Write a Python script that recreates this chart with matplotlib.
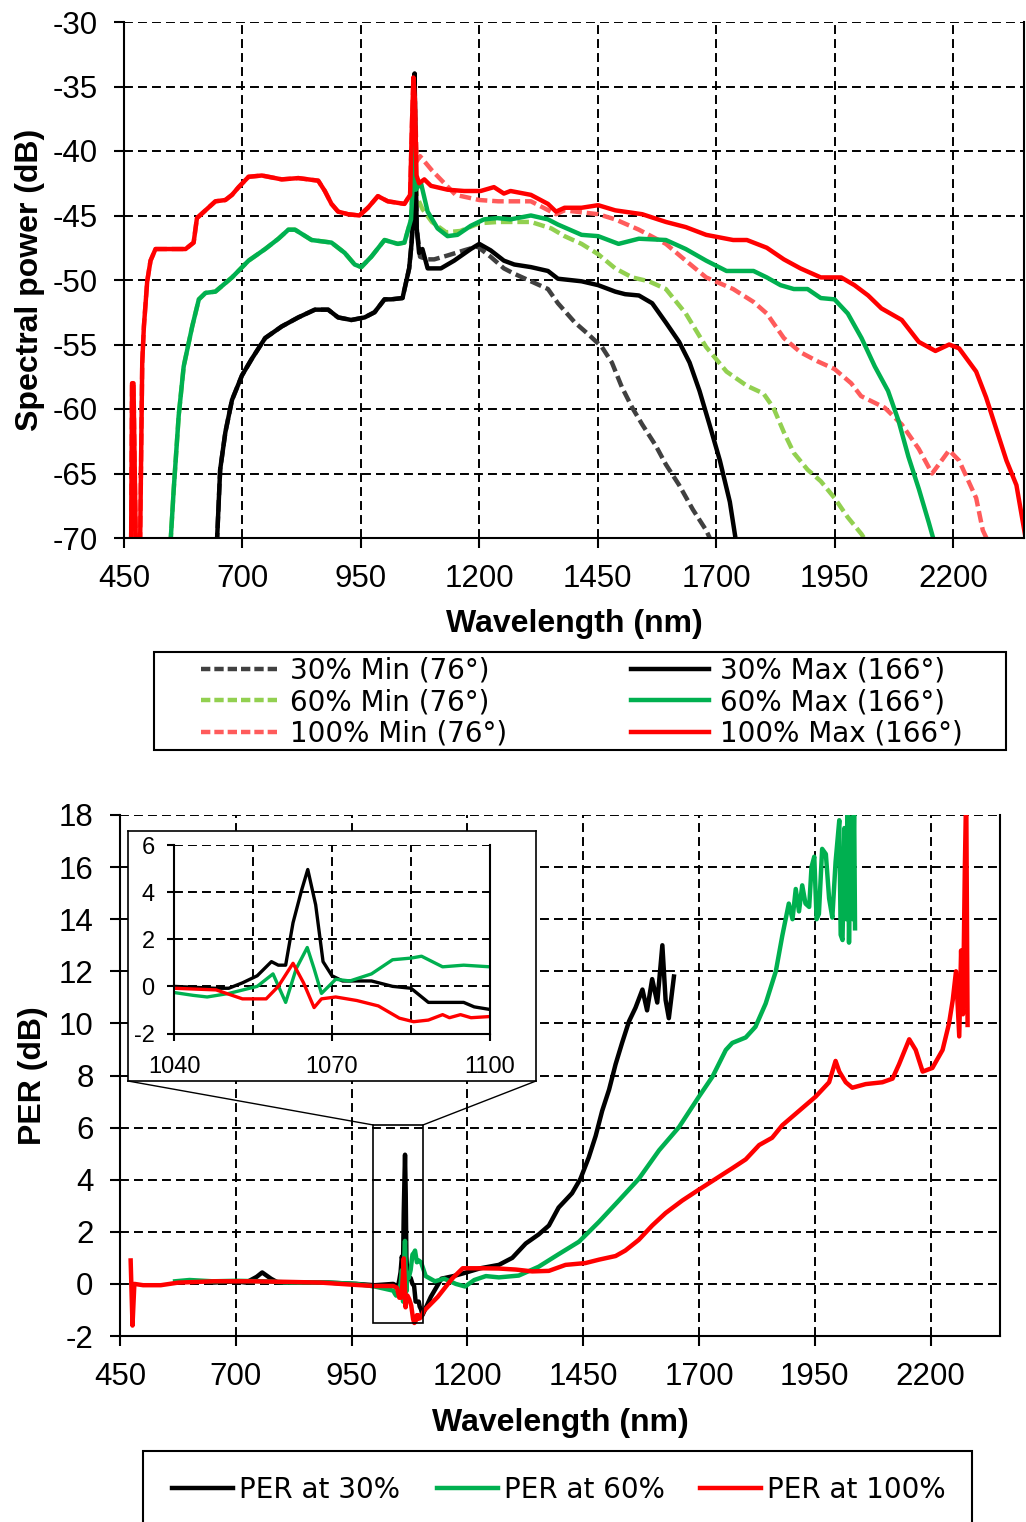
import matplotlib
matplotlib.use('Agg')
import matplotlib.pyplot as plt
from matplotlib.patches import Rectangle, ConnectionPatch
from matplotlib.lines import Line2D

plt.rcParams['font.family'] = ['Liberation Sans', 'DejaVu Sans']
plt.rcParams['axes.unicode_minus'] = False

# ---- spectra (top panel) ----
# 30 % power: shared part (Min and Max overlap below the pump line)
wl_30_common = [646, 653, 664, 678, 699, 720, 748, 783, 818, 853, 881, 902, 930, 958, 979, 1000,
                1014, 1038, 1052, 1057, 1059, 1061, 1063.5]
db_30_common = [-70.5, -64.7, -61.8, -59.3, -57.4, -56.1, -54.5, -53.6, -52.9, -52.3, -52.3, -52.9,
                -53.1, -52.9, -52.5, -51.5, -51.5, -51.4, -49.1, -47.2, -46, -37.8, -34]
wl_30max_tail = [1065.5, 1068, 1073, 1080, 1091, 1119, 1147, 1182, 1200, 1224, 1252, 1274, 1309, 1345,
                 1366, 1416, 1451, 1487, 1508, 1537, 1565, 1594, 1622, 1644, 1665, 1686, 1708, 1729, 1743]
db_30max_tail = [-40.9, -46, -47.9, -47.6, -49.1, -49.1, -48.5, -47.6, -47.2, -47.7, -48.5, -48.8, -49,
                 -49.3, -49.9, -50.1, -50.4, -50.9, -51.1, -51.2, -51.8, -53.3, -54.8, -56.4, -58.6,
                 -61.2, -64, -67.2, -70.5]
wl_30min_tail = [1065.5, 1068, 1075, 1090, 1105, 1133, 1168, 1196, 1224, 1252, 1273, 1309, 1345, 1366,
                 1402, 1430, 1459, 1480, 1501, 1523, 1544, 1572, 1594, 1622, 1651, 1679, 1693]
db_30min_tail = [-40.9, -46, -48.2, -48.4, -48.4, -48.1, -47.7, -47.4, -48.2, -49.1, -49.5, -50.1, -50.7,
                 -51.8, -53.3, -54.2, -55.2, -56.4, -58.3, -59.9, -61.2, -62.8, -64.3, -65.9, -67.8,
                 -69.4, -70.5]

# 60 % power
wl_60_common = [548, 555, 565.5, 576, 594, 608, 622, 643, 678, 713, 748, 776, 797, 811, 846, 888, 916,
                937, 951, 972, 1000, 1028, 1042, 1056, 1059, 1061, 1063.5]
db_60_common = [-70.5, -66.2, -60.5, -56.7, -53.6, -51.5, -51, -50.9, -49.8, -48.5, -47.6, -46.8, -46.1,
                -46.1, -46.9, -47.1, -47.9, -48.8, -49, -48.2, -46.9, -47.2, -47.1, -45.3, -43, -34.5, -38]
wl_60max_tail = [1066, 1070, 1077, 1091, 1112, 1133, 1154, 1182, 1210, 1238, 1266, 1309, 1345, 1366, 1416,
                 1451, 1494, 1537, 1594, 1636, 1679, 1722, 1779, 1807, 1836, 1864, 1893, 1921, 1950,
                 1978, 2007, 2035, 2063, 2085, 2106, 2128, 2149, 2162]
db_60max_tail = [-43, -42.8, -42.5, -44.7, -46, -46.6, -46.5, -45.8, -45.3, -45.2, -45.3, -45, -45.3,
                 -45.7, -46.5, -46.6, -47.2, -46.8, -46.9, -47.6, -48.5, -49.3, -49.3, -49.8, -50.4,
                 -50.7, -50.7, -51.4, -51.5, -52.6, -54.5, -56.7, -58.6, -60.9, -63.7, -66.2, -68.8, -70.5]
wl_60min_tail = [1066, 1068, 1080, 1100, 1130, 1160, 1200, 1240, 1309, 1352, 1380, 1416, 1451, 1487, 1523,
                 1558, 1594, 1636, 1679, 1722, 1765, 1800, 1821, 1843, 1864, 1893, 1921, 1950, 1978,
                 2007, 2021]
db_60min_tail = [-43, -43.5, -44.5, -45.5, -46.3, -46.2, -45.6, -45.5, -45.5, -46, -46.6, -47.2, -48,
                 -49.1, -49.8, -50.1, -50.7, -52.6, -55.2, -57.1, -58.2, -58.8, -59.9, -61.8, -63.4,
                 -64.7, -65.6, -66.9, -68.4, -69.7, -70.5]

# 100 % power
wl_100_common = [465, 467, 470, 475, 484, 488.5, 492, 499, 506, 516.5, 537.5, 580, 597, 604, 622, 643,
                 664, 678, 692, 713, 741, 783, 818, 860, 874, 888, 902, 923, 947, 965, 986, 1007, 1042,
                 1054, 1058, 1061, 1064]
db_100_common = [-70.5, -58, -58, -70.5, -70.5, -56.4, -53.6, -50.1, -48.5, -47.6, -47.6, -47.6, -47.1,
                 -45.2, -44.6, -43.9, -43.8, -43.4, -42.8, -42, -41.9, -42.2, -42.1, -42.3, -43.1, -44.1,
                 -44.7, -44.9, -45, -44.4, -43.5, -43.9, -44.1, -43.4, -37.8, -34.3, -35.9]
wl_100max_tail = [1067.6, 1073, 1084, 1098, 1133, 1168, 1203, 1231, 1252, 1266, 1309, 1345, 1362, 1380,
                  1416, 1451, 1487, 1544, 1594, 1636, 1679, 1736, 1765, 1807, 1843, 1878, 1921, 1964,
                  1992, 2021, 2049, 2092, 2128, 2163, 2192, 2213, 2249, 2270, 2291, 2313, 2334, 2352]
db_100max_tail = [-41.9, -42.5, -42.2, -42.7, -43, -43.1, -43.1, -42.8, -43.3, -43.1, -43.4, -44.1, -44.7,
                  -44.4, -44.4, -44.2, -44.6, -44.9, -45.5, -45.9, -46.5, -46.9, -46.9, -47.5, -48.4,
                  -49.1, -49.8, -49.8, -50.4, -51.2, -52.2, -53.1, -54.8, -55.5, -55.0, -55.3, -57.1,
                  -59.1, -61.5, -64, -65.9, -69.7]
wl_100min_tail = [1068, 1075, 1100, 1150, 1200, 1240, 1309, 1362, 1380, 1451, 1487, 1537, 1594, 1636,
                  1679, 1736, 1779, 1807, 1843, 1878, 1914, 1950, 1985, 2006, 2056, 2092, 2128, 2156,
                  2192, 2213, 2249, 2263, 2277]
db_100min_tail = [-40.8, -40.4, -41.5, -43.4, -43.8, -43.9, -43.9, -44.9, -44.6, -44.9, -45.3, -46.1,
                  -47.2, -48.5, -49.8, -50.7, -51.7, -52.6, -54.5, -55.6, -56.3, -56.9, -58, -59, -59.9,
                  -61.2, -63.1, -65, -63.2, -64, -66.9, -69.4, -70.5]

# ---- PER (bottom panel) ----
wl_per30 = [650, 700, 722, 745, 757, 776, 791, 850, 900, 960, 1000, 1040, 1047.7, 1050.4, 1053, 1055.8,
            1058.5, 1059.8, 1061.2, 1062.6, 1064.2, 1065.4, 1066.9, 1068.3, 1070, 1072, 1077.5, 1081.5,
            1085, 1088.3, 1095, 1097, 1100, 1103, 1121, 1144, 1170, 1190, 1228, 1268, 1297, 1326, 1354,
            1376, 1397, 1426, 1444, 1462, 1477, 1491, 1506, 1520, 1534, 1549, 1563, 1578, 1588, 1599,
            1610, 1621, 1628, 1635, 1646]
per30 = [0.05, 0.1, 0.05, 0.27, 0.44, 0.2, 0.05, 0.05, 0.05, 0.0, -0.05, 0, -0.08, -0.08, 0.15, 0.45,
         1.05, 0.9, 0.9, 2.7, 4.06, 4.96, 3.46, 1.05, 0.45, 0.23, 0.23, 0, -0.08, -0.68, -0.68, -0.87,
         -0.98, -1.2, -0.5, 0.2, 0.3, 0.4, 0.6, 0.73, 1.0, 1.55, 1.9, 2.24, 2.93, 3.48, 4.03, 4.85, 5.68,
         6.64, 7.46, 8.43, 9.25, 10.08, 10.6, 11.3, 10.5, 11.7, 10.8, 13.0, 10.9, 10.2, 11.8]

wl_per60 = [569, 600, 650, 700, 760, 820, 900, 960, 1000, 1040, 1043.6, 1046.3, 1050.4, 1055.8, 1058.8,
            1061.2, 1063.2, 1065.3, 1066.6, 1068, 1070.7, 1073.4, 1077.5, 1081.5, 1085, 1087, 1091, 1095,
            1100, 1110, 1130, 1150, 1175, 1195, 1215, 1240, 1268, 1311, 1354, 1397, 1441, 1484, 1527,
            1570, 1614, 1657, 1700, 1729, 1758, 1772, 1801, 1822, 1844, 1866, 1880, 1894, 1902, 1909,
            1916, 1923, 1930, 1938, 1943, 1949, 1954, 1959, 1966, 1974, 1981, 1988, 1995, 2003, 2006,
            2010, 2014, 2018, 2021, 2024, 2028, 2032, 2035, 2037]
per60 = [0.1, 0.15, 0.1, 0.12, 0.1, 0.05, 0.05, 0, -0.1, -0.26, -0.38, -0.45, -0.3, 0, 0.53, -0.68, 0.75,
         1.65, 0.75, -0.3, 0.3, 0.23, 0.53, 1.13, 1.2, 1.28, 0.83, 0.9, 0.83, 0.3, 0.1, 0.2, 0.0, -0.1,
         0.15, 0.3, 0.25, 0.32, 0.66, 1.14, 1.62, 2.38, 3.2, 4.03, 5.13, 6.02, 7.19, 7.95, 8.98, 9.25,
         9.46, 9.87, 10.76, 12.0, 13.37, 14.6, 14.0, 15.16, 14.3, 15.3, 14.6, 14.47, 16.0, 16.4, 14.0,
         14.2, 16.7, 16.5, 14.8, 14.06, 16.2, 17.8, 13.4, 13.2, 17.5, 14.0, 18.5, 13.1, 17.9, 14.0,
         18.5, 13.65]

wl_per100 = [473, 477, 481, 500, 538, 576, 653, 730, 807, 883, 960, 998, 1040, 1048, 1053, 1057.5, 1059.8,
             1062.6, 1064.6, 1066.6, 1068, 1070.7, 1074.7, 1078.8, 1082.8, 1085.5, 1088.3, 1091, 1092.3,
             1094.4, 1096.4, 1100, 1106, 1136, 1167, 1190, 1228, 1268, 1305, 1340, 1376, 1412, 1455,
             1484, 1520, 1541, 1570, 1599, 1628, 1664, 1700, 1736, 1772, 1801, 1830, 1858, 1880, 1916,
             1952, 1981, 1995, 2003, 2017, 2031, 2060, 2096, 2118, 2132, 2154, 2168, 2183, 2204, 2226,
             2240, 2248, 2255, 2262, 2266, 2270, 2274, 2277, 2280]
per100 = [0.9, -1.6, 0.0, -0.05, -0.05, 0.05, 0.1, 0.1, 0.08, 0.05, -0.04, -0.08, -0.08, -0.15, -0.53,
          -0.53, 0, 0.98, 0.15, -0.9, -0.53, -0.45, -0.6, -0.83, -1.35, -1.5, -1.43, -1.2, -1.33, -1.2,
          -1.33, -1.28, -1.04, -0.5, 0.2, 0.6, 0.6, 0.59, 0.55, 0.48, 0.5, 0.73, 0.8, 0.93, 1.07, 1.28,
          1.69, 2.24, 2.72, 3.2, 3.62, 4.03, 4.44, 4.78, 5.33, 5.61, 6.09, 6.64, 7.19, 7.74, 8.56, 8.15,
          7.74, 7.53, 7.67, 7.74, 7.88, 8.43, 9.39, 8.98, 8.15, 8.29, 8.98, 10.0, 10.9, 12.0, 9.5, 12.8,
          10.35, 15.85, 19, 9.94]

spec_labels = ['30% Min (76°)', '60% Min (76°)', '100% Min (76°)',
               '30% Max (166°)', '60% Max (166°)', '100% Max (166°)']
per_labels = ['PER at 30%', 'PER at 60%', 'PER at 100%']

c30min, c60min, c100min = '#404040', '#92D050', '#FF5B5B'
c30max, c60max, c100max = '#000000', '#00B050', '#FF0000'

W, H = 1026, 1522
fig = plt.figure(figsize=(W / 100, H / 100), dpi=100)


def fx(px):
    return px / W


def fy(py):
    return 1 - py / H


def style(ax, fs, tl=7, pad=12):
    ax.spines['top'].set_visible(False)
    for s in ('left', 'bottom', 'right'):
        ax.spines[s].set_linewidth(1.5)
    ax.set_axisbelow(True)
    ax.grid(True, which='both', color='k', lw=1.4, linestyle=(0, (4.6, 2.6)))
    ax.tick_params(direction='out', length=tl, width=1.5, labelsize=fs, pad=pad)


lw = 3.2
dash = (2.6, 1.1)

# ---------------- top panel ----------------
ax1 = fig.add_axes([fx(124), fy(538), fx(1024) - fx(124), fy(22) - fy(538)])
style(ax1, 22.5)
ax1.plot(wl_30_common + wl_30min_tail, db_30_common + db_30min_tail, color=c30min, lw=lw, dashes=dash)
ax1.plot(wl_60_common + wl_60min_tail, db_60_common + db_60min_tail, color=c60min, lw=lw, dashes=dash)
ax1.plot(wl_100_common + wl_100min_tail, db_100_common + db_100min_tail, color=c100min, lw=lw, dashes=dash)
ax1.plot(wl_30_common + wl_30max_tail, db_30_common + db_30max_tail, color=c30max, lw=lw)
ax1.plot(wl_60_common + wl_60max_tail, db_60_common + db_60max_tail, color=c60max, lw=lw)
ax1.plot(wl_100_common + wl_100max_tail, db_100_common + db_100max_tail, color=c100max, lw=lw)
ax1.set_xlim(450, 2350)
ax1.set_ylim(-70, -30)
ax1.set_xticks(range(450, 2201, 250))
ax1.set_yticks(range(-70, -29, 5))
ax1.set_xlabel('Wavelength (nm)', fontsize=23, fontweight='bold')
ax1.set_ylabel('Spectral power (dB)', fontsize=23, fontweight='bold')
ax1.xaxis.set_label_coords(0.5, -0.138)
ax1.yaxis.set_label_coords(-0.088, 0.5)

# top legend (frame drawn by hand, two columns placed separately)
fig.add_artist(Rectangle((fx(154), fy(750)), fx(1006) - fx(154), fy(652) - fy(750),
                         transform=fig.transFigure, fill=False, ec='k', lw=1.5))
leg_prop = {'family': 'DejaVu Sans', 'size': 20}
min_handles = [Line2D([], [], color=c, lw=3.2, dashes=(2.1, 0.9)) for c in (c30min, c60min, c100min)]
max_handles = [Line2D([], [], color=c, lw=3.2) for c in (c30max, c60max, c100max)]
for hs, labs, x0 in ((min_handles, spec_labels[:3], 201), (max_handles, spec_labels[3:], 631)):
    fig.legend(hs, labs, loc='center left', bbox_to_anchor=(fx(x0), fy(702)),
               frameon=False, prop=leg_prop, handlelength=2.8, handletextpad=0.4,
               labelspacing=0.12, borderpad=0, borderaxespad=0)

# ---------------- bottom panel ----------------
ax2 = fig.add_axes([fx(120), fy(1336), fx(1000) - fx(120), fy(815) - fy(1336)])
style(ax2, 22.5)
ax2.plot(wl_per30, per30, color=c30max, lw=lw)
ax2.plot(wl_per60, per60, color=c60max, lw=lw)
ax2.plot(wl_per100, per100, color=c100max, lw=lw)
ax2.set_xlim(450, 2350)
ax2.set_ylim(-2, 18)
ax2.set_xticks(range(450, 2201, 250))
ax2.set_yticks(range(-2, 19, 2))
ax2.set_xlabel('Wavelength (nm)', fontsize=23, fontweight='bold')
ax2.set_ylabel('PER (dB)', fontsize=23, fontweight='bold')
ax2.xaxis.set_label_coords(0.5, -0.138)
ax2.yaxis.set_label_coords(-0.082, 0.5)

# zoom marker on the main axes
ax2.add_patch(Rectangle((997, -1.5), 107, 7.6, fill=False, ec='k', lw=1.2, zorder=5))

# inset frame and inset axes
box = fig.add_axes([fx(128), fy(1081), fx(536) - fx(128), fy(831) - fy(1081)])
box.set_xticks([])
box.set_yticks([])
box.set_facecolor('white')
for s in box.spines.values():
    s.set_linewidth(1.2)

for xa, xb in ((997, 0), (1104, 1)):
    con = ConnectionPatch(xyA=(xa, 6.1), coordsA=ax2.transData, xyB=(xb, 0), coordsB=box.transAxes,
                          color='k', lw=1.0)
    fig.add_artist(con)

ins = fig.add_axes([fx(174), fy(1033.5), fx(490) - fx(174), fy(845) - fy(1033.5)])
style(ins, 17, tl=5, pad=9)
ins.plot(wl_per30, per30, color=c30max, lw=2.4)
ins.plot(wl_per60, per60, color=c60max, lw=2.4)
ins.plot(wl_per100, per100, color=c100max, lw=2.4)
ins.set_xlim(1040, 1100)
ins.set_ylim(-2, 6)
ins.set_xticks([1040, 1070, 1100])
ins.set_xticks([1055, 1085], minor=True)
ins.set_yticks(range(-2, 7, 2))
ins.tick_params(which='minor', length=0)
ins.tick_params(axis='x', pad=11)

# bottom legend
fig.add_artist(Rectangle((fx(143), fy(1540)), fx(972) - fx(143), fy(1451) - fy(1540),
                         transform=fig.transFigure, fill=False, ec='k', lw=1.5))
for c, lab, x0 in zip((c30max, c60max, c100max), per_labels, (172, 437, 700)):
    fig.legend([Line2D([], [], color=c, lw=3.2)], [lab], loc='center left',
               bbox_to_anchor=(fx(x0), fy(1490)), frameon=False, prop=leg_prop,
               handlelength=2.2, handletextpad=0.22, borderpad=0, borderaxespad=0)

fig.savefig('out.png', dpi=100)
